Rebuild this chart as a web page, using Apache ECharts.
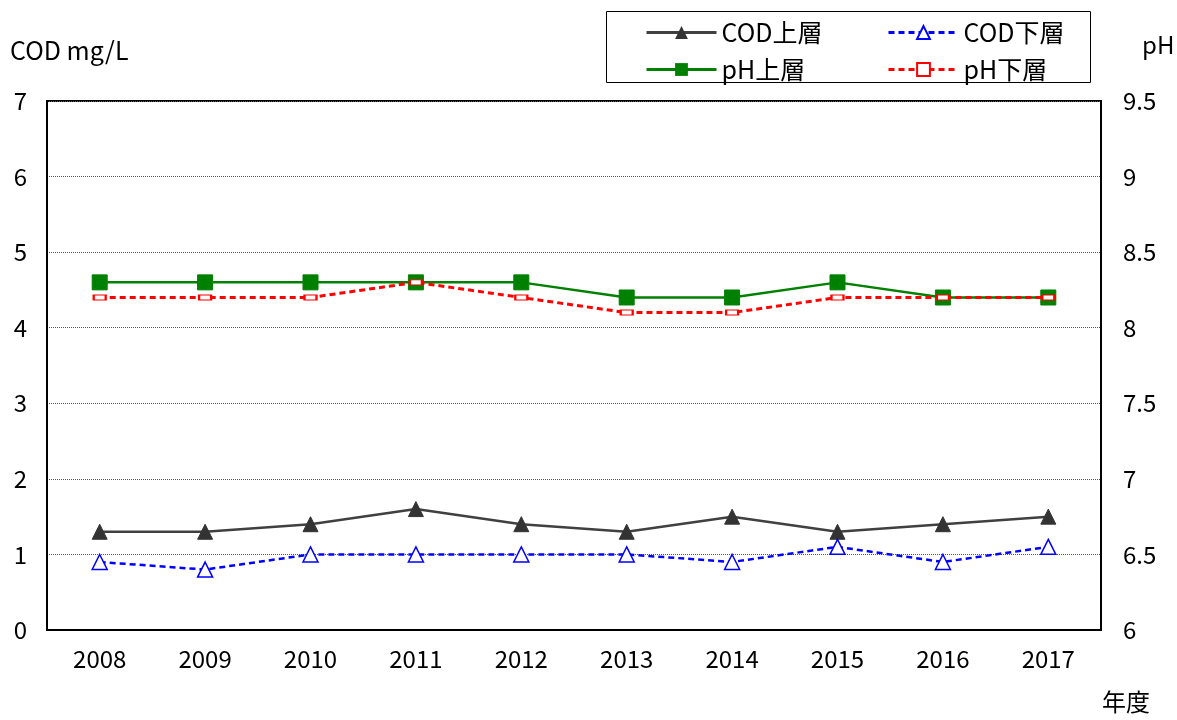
<!DOCTYPE html>
<html><head><meta charset="utf-8">
<script src="https://cdn.jsdelivr.net/npm/echarts@6/dist/echarts.min.js"></script>
<style>html,body{margin:0;padding:0;background:#fff}#c{width:1177px;height:720px}</style>
</head><body><div id="c"></div>
<script>
const years = ['2008','2009','2010','2011','2012','2013','2014','2015','2016','2017'];
const codUpper = [1.3,1.3,1.4,1.6,1.4,1.3,1.5,1.3,1.4,1.5];
const codLower = [0.9,0.8,1.0,1.0,1.0,1.0,0.9,1.1,0.9,1.1];
const phUpper = [8.3,8.3,8.3,8.3,8.3,8.2,8.2,8.3,8.2,8.2];
const phLower = [8.2,8.2,8.2,8.3,8.2,8.1,8.1,8.2,8.2,8.2];

const FONT = '"Noto Sans CJK JP", "Liberation Sans", sans-serif';
const FS = 24;
const chart = echarts.init(document.getElementById('c'), null, {renderer:'canvas'});
chart.setOption({
  animation:false,
  textStyle:{fontFamily:FONT, color:'#000'},
  grid:{left:47, right:76, top:101, bottom:90, show:true, borderColor:'#000', borderWidth:2, backgroundColor:'transparent'},
  legend:[
    {orient:'vertical', left:640, top:15, itemWidth:70, itemHeight:16, itemGap:12,
     lineStyle:{width:3},
     textStyle:{fontFamily:FONT, fontSize:25, color:'#000'}, data:['COD上層','pH上層']},
    {orient:'vertical', left:882, top:15, itemWidth:70, itemHeight:16, itemGap:12,
     lineStyle:{width:3},
     textStyle:{fontFamily:FONT, fontSize:25, color:'#000'}, data:['COD下層','pH下層']}
  ],
  graphic:[
    {type:'rect', shape:{x:606.5, y:11.5, width:484, height:71}, style:{fill:'none', stroke:'#000', lineWidth:1}, z:-1},
    {type:'text', left:10, top:38, style:{text:'COD mg/L', font:'25px '+FONT, fill:'#000'}},
    {type:'text', left:1142, top:33, style:{text:'pH', font:FS+'px '+FONT, fill:'#000'}},
    {type:'text', left:1102, top:690, style:{text:'年度', font:FS+'px '+FONT, fill:'#000'}}
  ],
  xAxis:{type:'category', data:years, boundaryGap:true,
    axisLine:{lineStyle:{color:'#000', width:2}},
    axisTick:{inside:true, length:7, lineStyle:{color:'#555', width:1}},
    axisLabel:{fontSize:FS, color:'#000', margin:17, fontFamily:FONT},
    splitLine:{show:false}},
  yAxis:[
    {type:'value', min:0, max:7, interval:1,
     axisLine:{show:true, lineStyle:{color:'#000', width:2}},
     axisTick:{show:false},
     axisLabel:{fontSize:FS, color:'#000', margin:20, fontFamily:FONT},
     splitLine:{show:true, lineStyle:{color:'#555', type:[1,1], width:1}}},
    {type:'value', min:6, max:9.5, interval:0.5,
     axisLine:{show:true, lineStyle:{color:'#000', width:2}},
     axisTick:{show:false},
     axisLabel:{fontSize:FS, color:'#000', margin:22, fontFamily:FONT},
     splitLine:{show:false}}
  ],
  series:[
    {name:'COD上層', type:'line', yAxisIndex:0, data:codUpper, symbol:'triangle', symbolSize:15, showAllSymbol:true,
     lineStyle:{color:'#404040', width:2.5}, itemStyle:{color:'#333', borderColor:'#333'}, z:3},
    {name:'COD下層', type:'line', yAxisIndex:0, data:codLower, symbol:'triangle', symbolSize:15,
     lineStyle:{color:'#0000ff', width:2.5, type:[6,4]}, itemStyle:{color:'#fff', borderColor:'#0000ff', borderWidth:1.5}, z:3},
    {name:'pH上層', type:'line', yAxisIndex:1, data:phUpper, symbol:'rect', symbolSize:15,
     lineStyle:{color:'#008000', width:2.5}, itemStyle:{color:'#008000', borderColor:'#008000'}, z:3},
    {name:'pH下層', type:'line', yAxisIndex:1, data:phLower, symbol:'rect', symbolSize:[12,5],
     lineStyle:{color:'#ff0000', width:3, type:[6,4]}, itemStyle:{color:'#fff', borderColor:'#ff0000', borderWidth:1.5}, z:4}
  ]
});
</script></body></html>
